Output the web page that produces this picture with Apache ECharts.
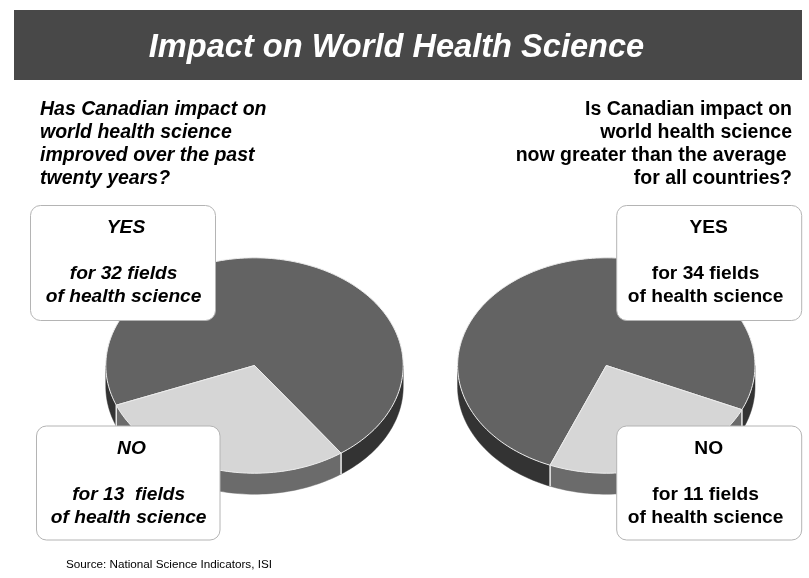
<!DOCTYPE html>
<html>
<head>
<meta charset="utf-8">
<style>html,body{margin:0;padding:0;background:#fff}#c{width:809px;height:578px}</style>
<script src="https://cdn.jsdelivr.net/npm/echarts@6/dist/echarts.min.js"></script>
</head>
<body>
<div id="c"></div>
<script>
// Data
const categories = ['YES', 'NO'];
const leftValues = [32, 13];
const rightValues = [34, 11];
const titleText = 'Impact on World Health Science';
const leftQuestion = 'Has Canadian impact on\nworld health science\nimproved over the past\ntwenty years?';
const rightQuestion = 'Is Canadian impact on\nworld health science\nnow greater than the average \nfor all countries?';
const leftYesBody = 'for 32 fields\nof health science';
const leftNoBody = 'for 13  fields\nof health science';
const rightYesBody = 'for 34 fields\nof health science';
const rightNoBody = 'for 11 fields\nof health science';
const sourceText = 'Source: National Science Indicators, ISI';

// Style
const FONT = '"Liberation Sans", Arial, sans-serif';
const RX = 148.7, RY = 107.7, DEPTH = 21;
const topColors = ['#636363', '#d6d6d6'];
const wallColors = ['#333333', '#6b6b6b'];
const EDGE = '#ececec';

function pt(cx, cy, deg, dy) {
  const a = deg * Math.PI / 180;
  return [cx + RX * Math.cos(a), cy + RY * Math.sin(a) + (dy || 0)];
}
function arc(cx, cy, a0, a1, dy) {
  const out = [], n = Math.max(2, Math.ceil(Math.abs(a1 - a0) / 1.5));
  for (let i = 0; i <= n; i++) out.push(pt(cx, cy, a0 + (a1 - a0) * i / n, dy));
  return out;
}
function sliceRange(values, idx, start) {
  const total = values.reduce((s, v) => s + v, 0);
  let a = start;
  for (let i = 0; i < idx; i++) a += values[i] / total * 360;
  return [a, a + values[idx] / total * 360];
}
function wallSeries(name, values, cx, cy, start) {
  return {
    type: 'custom', name, coordinateSystem: 'none', z: 2, silent: true,
    data: values.map((v, i) => ({ name: categories[i], value: v })),
    renderItem(params) {
      const i = params.dataIndex, r = sliceRange(values, i, start), children = [];
      [[0, 180], [360, 540]].forEach(w => {
        const a0 = Math.max(r[0], w[0]), a1 = Math.min(r[1], w[1]);
        if (a1 <= a0) return;
        const top = arc(cx, cy, a0, a1, 0), bot = arc(cx, cy, a1, a0, DEPTH);
        children.push({ type: 'polygon', shape: { points: top.concat(bot) },
          style: { fill: wallColors[i], stroke: wallColors[i], lineWidth: 0.5 } });
        [[a0, r[0]], [a1, r[1]]].forEach(e => {
          if (Math.abs(e[0] - e[1]) < 1e-6) {
            const p = pt(cx, cy, e[0], 0), q = pt(cx, cy, e[0], DEPTH);
            children.push({ type: 'line', shape: { x1: p[0], y1: p[1], x2: q[0], y2: q[1] },
              style: { stroke: EDGE, lineWidth: 1 }, z2: 5 });
          }
        });
      });
      return { type: 'group', children };
    }
  };
}
function topSeries(name, values, cx, cy, start) {
  return {
    type: 'custom', name, coordinateSystem: 'none', z: 3, silent: true,
    data: values.map((v, i) => ({ name: categories[i], value: v })),
    renderItem(params) {
      const i = params.dataIndex, r = sliceRange(values, i, start);
      return { type: 'polygon',
        shape: { points: [[cx, cy]].concat(arc(cx, cy, r[0], r[1], 0)) },
        style: { fill: topColors[i], stroke: EDGE, lineWidth: 1, lineJoin: 'round' } };
    }
  };
}
function box(x, y, w, h, heading, body, headCx, bodyCx, italic) {
  const font = (italic ? 'italic ' : '') + 'bold 19.2px ' + FONT;
  return [
    { type: 'rect', z: 10, shape: { x, y, width: w, height: h, r: 10 },
      style: { fill: '#ffffff', stroke: '#b4b4b4', lineWidth: 1 } },
    { type: 'text', z: 11, style: { x: headCx, y: y + 11, text: heading, align: 'center', verticalAlign: 'top',
      font, lineHeight: 23, fill: '#000' } },
    { type: 'text', z: 11, style: { x: bodyCx, y: y + 57, text: body, align: 'center', verticalAlign: 'top',
      font, lineHeight: 23, fill: '#000' } }
  ];
}

const chart = echarts.init(document.getElementById('c'), null, { renderer: 'canvas' });
chart.setOption({
  animation: false,
  backgroundColor: '#ffffff',
  series: [
    wallSeries('Improved wall', leftValues, 254.5, 365.5, 158.4),
    topSeries('Improved', leftValues, 254.5, 365.5, 158.4),
    wallSeries('Above average wall', rightValues, 606.3, 365.5, 112.2),
    topSeries('Above average', rightValues, 606.3, 365.5, 112.2)
  ],
  graphic: { elements: [
    { type: 'rect', z: 1, shape: { x: 14, y: 10, width: 788, height: 70 }, style: { fill: '#484848' } },
    { type: 'text', z: 11, style: { x: 396.5, y: 48.5, text: titleText, align: 'center', verticalAlign: 'middle',
      font: 'italic bold 32.6px ' + FONT, fill: '#ffffff' } },
    { type: 'text', z: 11, style: { x: 40, y: 98, text: leftQuestion, align: 'left', verticalAlign: 'top',
      font: 'italic bold 19.5px ' + FONT, lineHeight: 23, fill: '#000' } },
    { type: 'text', z: 11, style: { x: 792, y: 98, text: rightQuestion, align: 'right', verticalAlign: 'top',
      font: 'bold 19.5px ' + FONT, lineHeight: 23, fill: '#000' } },
    ...box(30.5, 205.5, 185, 115, categories[0], leftYesBody, 126, 123.6, true),
    ...box(36.5, 426, 183.5, 114, categories[1], leftNoBody, 131.5, 128.7, true),
    ...box(616.7, 205.5, 185, 115, categories[0], rightYesBody, 708.7, 705.6, false),
    ...box(616.7, 426, 185, 114, categories[1], rightNoBody, 708.7, 705.6, false),
    { type: 'text', z: 11, style: { x: 66, y: 559, text: sourceText, align: 'left', verticalAlign: 'top',
      font: '11.7px ' + FONT, fill: '#000' } }
  ]}
});
</script>
</body>
</html>
